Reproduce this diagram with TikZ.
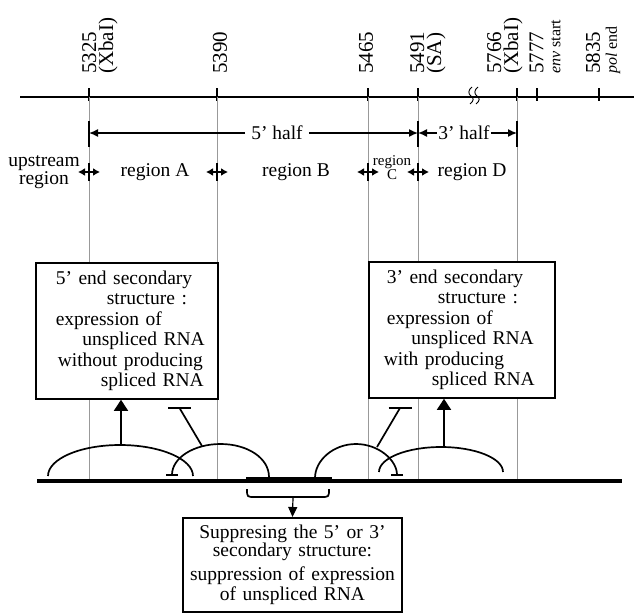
\documentclass[tikz,border=0pt]{standalone}
\usepackage{fontspec}
\setmainfont{Liberation Serif}
\usetikzlibrary{arrows.meta}

\tikzset{
  guide/.style={gray!80, line width=0.7pt},
  axisline/.style={line width=1.3pt},
  thickline/.style={line width=1.7pt},
  box/.style={draw, line width=1.6pt, fill=white, inner xsep=0pt, inner ysep=8pt, align=left},
  regarrow/.style={line width=1.5pt, {Latex[length=7pt,width=8pt]}-{Latex[length=7pt,width=8pt]}},
  halfarrow/.style={line width=1.5pt, -{Latex[length=9pt,width=8pt]}},
  ticklabel/.style={rotate=90, anchor=west, align=left, inner sep=0pt, font=\fontsize{21}{17}\selectfont},
  region/.style={align=center, font=\fontsize{19.5}{17}\selectfont},
}

\begin{document}
\begin{tikzpicture}[x=1pt, y=-1pt, font=\fontsize{19.5}{20.5}\selectfont]
\useasboundingbox (0,0) rectangle (634,613);

% map axis with positions
\coordinate (s5325) at (89,97);
\coordinate (s5390) at (217,97);
\coordinate (s5465) at (368,97);
\coordinate (s5491) at (418,97);
\coordinate (s5766) at (517,97);
\draw[axisline] (20,97) -- (634,97);
\foreach \x in {89,217,368,418,517,537,599}
  \draw[axisline] (\x,88) -- (\x,101);
\foreach \x in {471,477}
  \draw[line width=0.9pt] (\x+1,87) .. controls (\x-3,90) and (\x-3,94) .. (\x,96)
    .. controls (\x+3,98) and (\x+3,101) .. (\x-1,104);

\node[ticklabel] (l5325) at (100,74) {5325\\(XbaI)};
\node[ticklabel] (l5390) at (220,74) {5390};
\node[ticklabel] (l5465) at (366,74) {5465};
\node[ticklabel] (l5491) at (428,74) {5491\\(SA)};
\node[ticklabel] (l5766) at (505,74) {5766\\(XbaI)};
\node[ticklabel] (l5777) at (545,74) {5777\\{\fontsize{16}{14}\selectfont\itshape env\upshape{} start}};
\node[ticklabel] (l5835) at (603,74) {5835\\{\fontsize{16}{14}\selectfont\itshape pol\upshape{} end}};

% guide lines down to the RNA
\foreach \x in {89,217,368,418,517}
  \draw[guide] (\x,97) -- (\x,481);

% halves
\node[inner xsep=6pt, inner ysep=0pt] (fivehalf) at (277,133) {5' half};
\node[inner xsep=1pt, inner ysep=0pt] (threehalf) at (464,133) {3' half};
\draw[halfarrow] (fivehalf.west) -- (s5325 |- fivehalf.west);
\draw[halfarrow] (fivehalf.east) -- (s5491 |- fivehalf.east);
\draw[halfarrow] (threehalf.west) -- (s5491 |- threehalf.west);
\draw[halfarrow] (threehalf.east) -- (s5766 |- threehalf.east);
\foreach \x in {89,418,517}
  \draw[thickline] (\x,121) -- (\x,147);

% regions
\foreach \x in {89,217,368,418} {
  \draw[regarrow] (\x-11,172) -- (\x+11,172);
  \draw[thickline] (\x,163) -- (\x,181);
}
\node[region] (upreg) at (44,172) {upstream\\region};
\node[region] (rega) at (155,172) {region A};
\node[region] (regb) at (296,172) {region B};
\node[region, font=\fontsize{15}{14}\selectfont] (regc) at (392,168) {region\\C};
\node[region] (regd) at (472,172) {region D};

% boxes
\node[box, anchor=north west, text width=182pt] (fivebox) at (35,262)
  {\hspace*{20pt}5' end secondary\\ \hspace*{71pt}structure :\\ \hspace*{20pt}expression of\\
   \hspace*{\fill}unspliced RNA\kern13pt\\ \hspace*{22pt}without producing\\ \hspace*{\fill}spliced RNA\kern14pt};
\node[box, anchor=north west, text width=186pt] (threebox) at (368,261)
  {\hspace*{18pt}3' end secondary\\ \hspace*{69pt}structure :\\ \hspace*{18pt}expression of\\
   \hspace*{\fill}unspliced RNA\kern21pt\\ \hspace*{15pt}with producing\\ \hspace*{\fill}spliced RNA\kern20pt};

% RNA and stem loops
\draw[line width=3.5pt] (37,481) -- (622,481);
\fill (246,476.5) rectangle (332,481);
\draw[thickline] (48,476) .. controls (48,458.9) and (80,445) .. (120,445)
  .. controls (160,445) and (193,458.9) .. (193,476);
\draw[thickline, {Bar[width=12pt]}-] (172,476) .. controls (172,457.9) and (193.7,444) .. (220.5,444)
  .. controls (247.3,444) and (269,457.9) .. (269,477);
\draw[thickline, -{Bar[width=12pt]}] (315,478) .. controls (315,460.3) and (333.4,444) .. (356,444)
  .. controls (378.6,444) and (397,460.3) .. (397,476);
\draw[thickline] (379,472) .. controls (379,458.2) and (406.8,447) .. (441,447)
  .. controls (475.2,447) and (503,458.2) .. (503,472);

\coordinate (topA) at (121,445);
\coordinate (topD) at (444,447);
\draw[thickline, -{Triangle[length=11pt,width=14pt]}] (topA) -- (topA |- fivebox.south);
\draw[thickline, -{Triangle[length=11pt,width=14pt]}] (topD) -- (topD |- threebox.south);

\coordinate (inhA) at (202,446);
\coordinate (barA) at (179.5,408);
\coordinate (inhC) at (377,447);
\coordinate (barC) at (400,408);
\draw[thickline] (inhA) -- (barA);
\draw[thickline] ([xshift=-11.5pt]barA) -- ([xshift=11.5pt]barA);
\draw[thickline] (inhC) -- (barC);
\draw[thickline] ([xshift=-11.5pt]barC) -- ([xshift=11.5pt]barC);

% suppression
\draw[thickline] (247,489) .. controls (247,497) .. (255,497) -- (321,497)
  .. controls (329,497) .. (329,489);
\coordinate (bracetip) at (293,497);
\node[box, align=center, anchor=north, text width=219pt, inner ysep=7pt] (suppbox) at (292.5,517)
  {Suppresing the 5' or 3'\\[-2.5pt] secondary structure:\\[3.5pt] suppression of expression\\ of unspliced RNA};
\draw[line width=1.2pt, -{Triangle[length=10pt,width=9pt]}] (bracetip) -- (suppbox.north);
\end{tikzpicture}
\end{document}
